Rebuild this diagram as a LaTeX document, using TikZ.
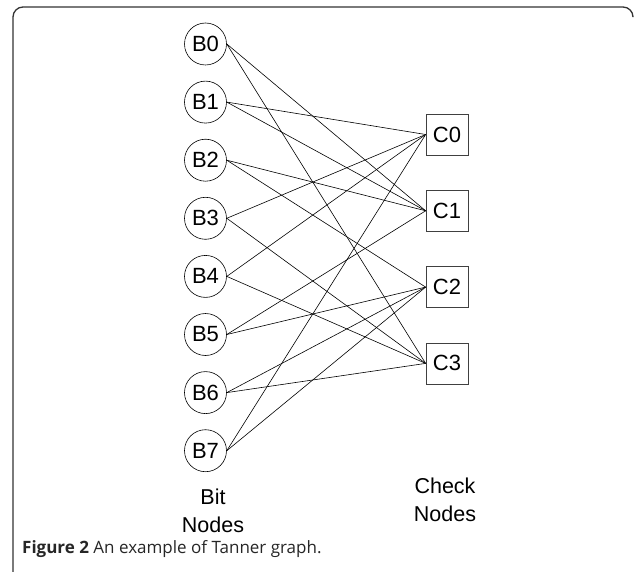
\documentclass[tikz,border=0pt]{standalone}
\usepackage{fontspec}
\setmainfont{Liberation Sans}
\newfontfamily\capfont{Open Sans}
\usepackage{tikz}
\usetikzlibrary{positioning}
\definecolor{framegray}{HTML}{333333}
\definecolor{boxgray}{HTML}{404040}
\tikzset{
  bitnode/.style={draw=black, circle, line width=.6pt, minimum size=42pt, inner sep=0pt, font=\fontsize{22}{26}\selectfont},
  checknode/.style={draw=boxgray, line width=.7pt, minimum width=42pt, minimum height=41pt, inner sep=0pt, font=\fontsize{22}{26}\selectfont},
  edge/.style={line width=.6pt, draw=black},
  lbl/.style={align=center, font=\fontsize{21.5}{28}\selectfont},
}
\begin{document}
\begin{tikzpicture}[x=1pt,y=-1pt]
  \useasboundingbox (0,0) rectangle (634,572);
  % frame
  \draw[framegray, line width=1.3pt, rounded corners=10pt] (633,16) |- (13,7) -- (13,572);
  % bit nodes and check nodes
  \foreach \i in {0,...,7}{
    \node[bitnode] (b\i) at (205.5,44+58.1*\i) {B\i};
  }
  \foreach \j in {0,...,3}{
    \node[checknode] (c\j) at (447,134.5+76.3*\j) {C\j};
  }
  % edges
  \foreach \i/\j in {0/1,0/3,1/0,1/1,2/1,2/2,3/0,3/3,4/0,4/3,5/1,5/2,6/2,6/3,7/0,7/2}{
    \draw[edge] (b\i.east) -- (c\j.west);
  }
  \node[lbl] (bitlbl) at (213,511) {Bit\\Nodes};
  \node[lbl] (checklbl) at (445,499.5) {Check\\Nodes};
  \node[anchor=west, inner sep=0pt, font=\capfont\fontsize{17}{20}\selectfont, text=black!85] (caption) at (22,549) {\textbf{Figure 2} An example of Tanner graph.};
\end{tikzpicture}
\end{document}
